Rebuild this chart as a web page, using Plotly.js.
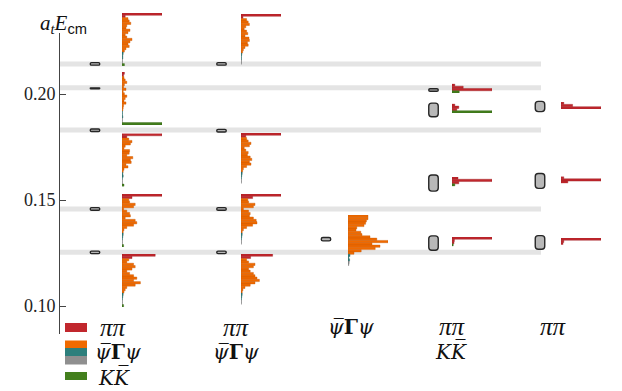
<!DOCTYPE html>
<html><head><meta charset="utf-8">
<script src="https://cdn.plot.ly/plotly-3.0.1.min.js"></script>
<style>html,body{margin:0;padding:0;background:#fff}#chart{width:622px;height:391px}</style>
</head><body><div id="chart"></div>
<script>
// ---------- DATA ----------
const thresholds = [0.2142, 0.2030, 0.1830, 0.1457, 0.1254];

// energy levels (a_t E_cm) and uncertainties per column
const col1E = [0.2142, 0.2027, 0.1829, 0.1458, 0.1253];
const col1Err = [0.0006, 0.0002, 0.0006, 0.0006, 0.0006];
const col2E = [0.2142, 0.1827, 0.1458, 0.1253];
const col2Err = [0.0006, 0.0006, 0.0006, 0.0006];
const col3E = [0.1315];
const col3Err = [0.0008];
const col4E = [0.2019, 0.1925, 0.1580, 0.1297];
const col4Err = [0.0006, 0.0032, 0.0038, 0.0034];
const col5E = [0.1941, 0.1590, 0.1300];
const col5Err = [0.0024, 0.0035, 0.0032];

// operator types in each column's basis
const rep = (t, n) => Array(n).fill(t);
const ops1 = [...rep('pp',2), ...rep('q',15), ...rep('t',3), ...rep('g',2), 'kk'];
const ops2 = [...rep('pp',2), ...rep('q',15), ...rep('t',3), ...rep('g',2)];
const ops3 = [...rep('q',17), ...rep('t',3), ...rep('g',2)];
const ops4 = ['pp','pp','pp','kk'];
const ops5 = ['pp','pp','pp'];

// overlaps |Z| (normalised), one array per level, top level first
const col1Z = [
  [1.0,0.08, 0.15,0.18,0.22,0.12,0.10,0.20,0.15,0.08,0.12,0.25,0.20,0.15,0.18,0.10,0.06, 0.03,0.02,0.02, 0.01,0.01, 0.06],
  [0.06,0.04, 0.05,0.08,0.12,0.06,0.04,0.10,0.03,0.06,0.12,0.08,0.05,0.10,0.04,0.03,0.02, 0.01,0.01,0.02, 0.01,0.01, 1.0],
  [1.0,0.12, 0.17,0.25,0.21,0.08,0.05,0.19,0.18,0.12,0.27,0.21,0.23,0.10,0.15,0.05,0.03, 0.02,0.03,0.01, 0.01,0.01, 0.05],
  [1.0,0.25, 0.17,0.19,0.33,0.29,0.04,0.12,0.19,0.21,0.08,0.33,0.37,0.29,0.12,0.05,0.03, 0.03,0.02,0.01, 0.01,0.01, 0.04],
  [0.83,0.25, 0.17,0.12,0.29,0.33,0.25,0.12,0.19,0.29,0.37,0.29,0.46,0.33,0.12,0.08,0.05, 0.03,0.02,0.01, 0.01,0.01, 0.04]
];
const col2Z = [
  [1.0,0.05, 0.14,0.18,0.21,0.12,0.08,0.14,0.17,0.10,0.20,0.21,0.16,0.18,0.10,0.06,0.04, 0.02,0.01,0.01, 0.01,0.01],
  [1.0,0.12, 0.14,0.18,0.25,0.21,0.08,0.12,0.18,0.16,0.23,0.27,0.21,0.25,0.14,0.06,0.04, 0.03,0.02,0.01, 0.01,0.01],
  [1.0,0.29, 0.17,0.19,0.35,0.31,0.06,0.19,0.23,0.21,0.31,0.38,0.40,0.29,0.14,0.06,0.03, 0.03,0.02,0.01, 0.01,0.01],
  [0.79,0.24, 0.14,0.19,0.35,0.31,0.19,0.23,0.31,0.35,0.40,0.46,0.35,0.23,0.10,0.05,0.03, 0.03,0.02,0.01, 0.01,0.01]
];
const col3Z = [
  [0.50,0.50,0.46,0.44,0.40,0.22,0.20,0.32,0.35,0.55,0.72,1.0,0.60,0.80,0.68,0.33,0.15, 0.05,0.02,0.04, 0.03,0.02]
];
const col4Z = [
  [0.07,0.28,1.0,0.18],
  [0.07,0.17,0.12,1.0],
  [0.15,1.0,0.17,0.07],
  [1.0,0.06,0.05,0.03]
];
const col5Z = [
  [0.07,0.29,1.0],
  [0.07,1.0,0.17],
  [1.0,0.07,0.05]
];

const opColor = {pp:'#c1272d', q:'#f06a00', t:'#2d7f7c', g:'#8f8f8f', kk:'#437f1d'};
const opEdge  = {pp:'#9a1d22', q:'#c45500', t:'#215f5c', g:'#6e6e6e', kk:'#335f15'};

const labelPP = '<i>ππ</i>';
const labelQ  = '<i>ψ\u0305</i><b>Γ</b><i>ψ</i>';
const labelKK = '<i>KK\u0305</i>';

// ---------- LAYOUT HELPERS ----------
const W = 622, H = 391;
const yPxTop = 33, yPxBot = 334;          // axis extent in px
const refE = 0.20, refPx = 94, pxPerE = 2120;
const yRange = [refE - (yPxBot - refPx) / pxPerE, refE + (refPx - yPxTop) / pxPerE];
const eToPx = e => refPx + (refE - e) * pxPerE;
const pitch = 2.3;
const barLen = 40;

const columns = [
  {E: col1E, err: col1Err, Z: col1Z, ops: ops1, boxX: 95,    histX: 122, slotTops: [13, 72, 133.5, 194, 254]},
  {E: col2E, err: col2Err, Z: col2Z, ops: ops2, boxX: 221.5, histX: 241, slotTops: [14, 133, 194, 254]},
  {E: col3E, err: col3Err, Z: col3Z, ops: ops3, boxX: 326,   histX: 348, centerOff: 1.2},
  {E: col4E, err: col4Err, Z: col4Z, ops: ops4, boxX: 433.5, histX: 452, centerOff: -1.5},
  {E: col5E, err: col5Err, Z: col5Z, ops: ops5, boxX: 540,   histX: 561, centerOff: -1}
];

const traces = [{x: [], y: [], type: 'scatter', mode: 'markers', xaxis: 'x', yaxis: 'y', hoverinfo: 'skip', showlegend: false}];
const layout = {
  width: W, height: H,
  margin: {l: 0, r: 0, t: 0, b: 0},
  paper_bgcolor: '#ffffff', plot_bgcolor: 'rgba(0,0,0,0)',
  showlegend: false, bargap: 0,
  xaxis: {domain: [0, 1], range: [0, W], visible: false, fixedrange: true},
  yaxis: {
    domain: [1 - yPxBot / H, 1 - yPxTop / H], range: yRange,
    anchor: 'free', position: 59 / W,
    tickvals: [0.10, 0.15, 0.20], ticktext: ['0.10', '0.15', '0.20'],
    ticks: 'inside', ticklen: 6, tickwidth: 1, tickcolor: '#444',
    showline: true, linecolor: '#444', linewidth: 1,
    showgrid: false, zeroline: false, fixedrange: true,
    tickfont: {family: 'Liberation Serif, DejaVu Serif, serif', size: 18, color: '#222'}
  },
  shapes: [], annotations: []
};

// threshold bands
thresholds.forEach(t => layout.shapes.push({
  type: 'line', xref: 'x', yref: 'y', x0: 59, x1: 541, y0: t, y1: t,
  line: {color: '#e4e4e4', width: 5}, layer: 'below'
}));

// rounded boxes for energy levels
function roundedBox(cx, e, err, wpx) {
  const x0 = cx - wpx / 2, x1 = cx + wpx / 2;
  const y0 = e - err, y1 = e + err;
  const rpx = Math.min(3, err * pxPerE, wpx / 2);
  const rx = rpx, ry = rpx / pxPerE;
  return `M ${x0 + rx},${y0} L ${x1 - rx},${y0} Q ${x1},${y0} ${x1},${y0 + ry} L ${x1},${y1 - ry} ` +
         `Q ${x1},${y1} ${x1 - rx},${y1} L ${x0 + rx},${y1} Q ${x0},${y1} ${x0},${y1 - ry} ` +
         `L ${x0},${y0 + ry} Q ${x0},${y0} ${x0 + rx},${y0} Z`;
}

let ax = 2;
columns.forEach(col => {
  col.E.forEach((e, i) => {
    layout.shapes.push({
      type: 'path', xref: 'x', yref: 'y', path: roundedBox(col.boxX, e, col.err[i], 9.5),
      fillcolor: '#b8b8b8', line: {color: '#262626', width: 1.4}, layer: 'above'
    });
    const n = col.ops.length;
    const hpx = n * pitch;
    let top;
    if (col.slotTops) top = col.slotTops[i];
    else top = eToPx(e) + col.centerOff - hpx / 2;
    const bottom = top + hpx;
    const xa = 'xaxis' + ax, ya = 'yaxis' + ax;
    layout[xa] = {domain: [col.histX / W, (col.histX + barLen) / W], range: [0, 1], visible: false, fixedrange: true, anchor: 'y' + ax};
    layout[ya] = {domain: [1 - bottom / H, 1 - top / H], range: [n - 0.5, -0.5], visible: false, fixedrange: true, anchor: 'x' + ax, type: 'linear'};
    traces.push({
      type: 'bar', orientation: 'h',
      x: col.Z[i], y: col.ops.map((_, k) => k),
      xaxis: 'x' + ax, yaxis: 'y' + ax,
      marker: {color: col.ops.map(o => opColor[o]), line: {color: col.ops.map(o => opEdge[o]), width: 0.4}},
      hoverinfo: 'skip', showlegend: false
    });
    ax++;
  });
});

// legend swatches
const sw = [
  {c: opColor.pp, y0: 323, y1: 332},
  {c: opColor.q,  y0: 340.5, y1: 348},
  {c: opColor.t,  y0: 348, y1: 356},
  {c: opColor.g,  y0: 356, y1: 364.5},
  {c: opColor.kk, y0: 372, y1: 380}
];
sw.forEach(s => layout.shapes.push({
  type: 'rect', xref: 'paper', yref: 'paper', x0: 65 / W, x1: 87 / W,
  y0: 1 - s.y1 / H, y1: 1 - s.y0 / H, fillcolor: s.c, line: {width: 0}
}));

const labFont = {family: 'DejaVu Serif, Liberation Serif, serif', size: 20, color: '#111'};
const piFont = {family: 'Liberation Serif, DejaVu Serif, serif', size: 25, color: '#111'};
function lab(text, xpx, ypx, anchor, font) {
  layout.annotations.push({text, xref: 'paper', yref: 'paper', x: xpx / W, y: 1 - ypx / H,
    xanchor: anchor || 'center', yanchor: 'middle', showarrow: false, font: font || labFont});
}
lab(labelPP, 98, 327, 'left', piFont);
lab(labelQ, 93, 352, 'left');
lab(labelKK, 96, 377, 'left');
lab(labelPP, 236, 327, 'center', piFont);
lab(labelQ, 236, 352);
lab(labelQ, 351, 327);
lab(labelPP, 452, 326, 'center', piFont);
lab(labelKK, 451, 351);
lab(labelPP, 553, 326, 'center', piFont);

// y-axis title
layout.annotations.push({
  text: "<i>a</i><sub><i>t</i></sub><i>E</i><sub><span style='font-family:Liberation Sans, DejaVu Sans, sans-serif'>cm</span></sub>",
  xref: 'paper', yref: 'paper', x: 38 / W, y: 1 - 24 / H, xanchor: 'left', yanchor: 'middle',
  showarrow: false, font: {family: 'Liberation Serif, DejaVu Serif, serif', size: 21, color: '#111'}
});

Plotly.newPlot('chart', traces, layout, {staticPlot: true, displayModeBar: false});
</script>
</body></html>
